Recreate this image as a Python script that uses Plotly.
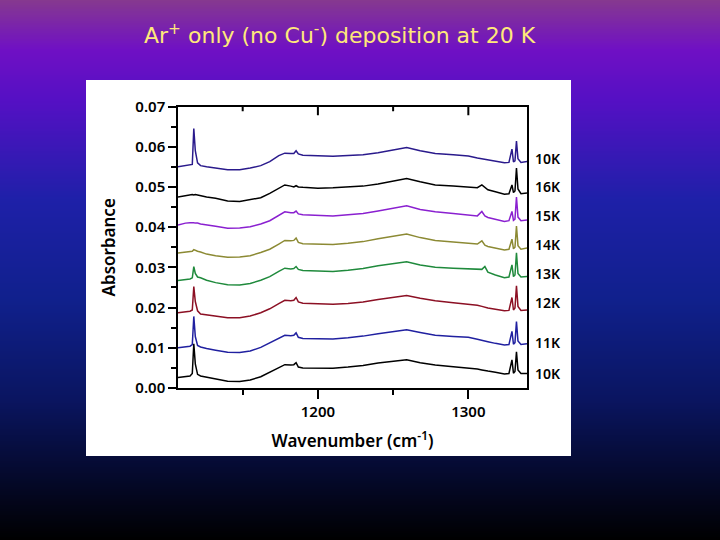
import plotly.graph_objects as go

title_text = "Ar<sup>+</sup> only (no Cu<sup>-</sup>) deposition at 20 K"

wavenumber = [1107, 1112, 1115, 1116.5, 1117.5, 1118.5, 1120, 1122, 1126, 1132, 1140, 1148, 1155, 1162,
              1168, 1174, 1178, 1182, 1184, 1185.5, 1187, 1190, 1200, 1210, 1220, 1230, 1240, 1250,
              1259, 1268, 1278, 1290, 1300, 1306, 1309, 1311, 1313, 1318, 1324, 1327, 1329, 1330,
              1331, 1332, 1333, 1335, 1339]

s10k_top = [.0550, .0553, .0554, .0556, .0645, .0590, .0560, .0553, .0550, .0547, .0543, .0543, .0547, .0553,
            .0563, .0578, .0584, .0583, .0583, .0590, .0582, .0579, .0577, .0576, .0578, .0580, .0585, .0591,
            .0598, .0590, .0583, .0580, .0577, .0572, .0570, .0569, .0568, .0564, .0560, .0561, .0594, .0562,
            .0565, .0614, .0570, .0561, .0563]
s16k = [.0475, .0479, .0480, .0481, .0480, .0481, .0480, .0478, .0475, .0472, .0465, .0464, .0468, .0473,
        .0484, .0497, .0505, .0502, .0500, .0503, .0500, .0499, .0497, .0498, .0500, .0502, .0507, .0514,
        .0521, .0513, .0505, .0502, .0500, .0498, .0505, .0499, .0493, .0488, .0482, .0483, .0505, .0486,
        .0490, .0547, .0495, .0483, .0485]
s15k = [.0405, .0410, .0411, .0412, .0411, .0410, .0410, .0408, .0405, .0402, .0397, .0398, .0401, .0408,
        .0416, .0430, .0438, .0436, .0436, .0440, .0433, .0431, .0429, .0428, .0431, .0434, .0440, .0447,
        .0453, .0444, .0438, .0434, .0430, .0428, .0439, .0428, .0424, .0420, .0414, .0416, .0439, .0417,
        .0420, .0475, .0425, .0416, .0418]
s14k = [.0336, .0338, .0339, .0340, .0344, .0342, .0340, .0338, .0333, .0329, .0325, .0326, .0329, .0337,
        .0345, .0358, .0367, .0366, .0367, .0373, .0362, .0359, .0358, .0357, .0360, .0364, .0371, .0378,
        .0383, .0374, .0367, .0363, .0360, .0358, .0366, .0355, .0352, .0348, .0343, .0345, .0370, .0346,
        .0350, .0403, .0354, .0345, .0348]
s13k = [.0267, .0270, .0271, .0274, .0302, .0285, .0276, .0274, .0268, .0262, .0257, .0256, .0260, .0268,
        .0277, .0290, .0298, .0296, .0297, .0302, .0295, .0292, .0291, .0290, .0293, .0297, .0304, .0310,
        .0314, .0306, .0300, .0298, .0296, .0294, .0295, .0302, .0288, .0281, .0274, .0276, .0306, .0277,
        .0281, .0336, .0285, .0276, .0277]
s12k = [.0187, .0189, .0191, .0194, .0252, .0215, .0192, .0184, .0182, .0179, .0175, .0175, .0179, .0187,
        .0197, .0210, .0218, .0217, .0218, .0225, .0214, .0211, .0209, .0208, .0210, .0214, .0220, .0226,
        .0230, .0223, .0217, .0212, .0209, .0206, .0203, .0201, .0199, .0196, .0192, .0193, .0225, .0194,
        .0199, .0254, .0203, .0193, .0194]
s11k = [.0100, .0103, .0104, .0108, .0178, .0128, .0106, .0102, .0098, .0094, .0089, .0088, .0092, .0101,
        .0112, .0124, .0131, .0130, .0131, .0137, .0126, .0123, .0122, .0122, .0125, .0129, .0135, .0141,
        .0145, .0138, .0131, .0128, .0126, .0121, .0119, .0117, .0115, .0111, .0107, .0108, .0141, .0109,
        .0113, .0165, .0117, .0108, .0110]
s10k = [.0026, .0029, .0030, .0036, .0110, .0060, .0034, .0030, .0027, .0022, .0017, .0016, .0020, .0028,
        .0039, .0051, .0058, .0057, .0058, .0063, .0052, .0050, .0049, .0049, .0052, .0056, .0062, .0067,
        .0070, .0063, .0057, .0053, .0050, .0047, .0045, .0043, .0042, .0039, .0035, .0036, .0070, .0037,
        .0041, .0090, .0045, .0036, .0036]

series_values = [s10k_top, s16k, s15k, s14k, s13k, s12k, s11k, s10k]
series_labels = ["10K", "16K", "15K", "14K", "13K", "12K", "11K", "10K"]
series_colors = ["#2a1a8c", "#000000", "#8a20d0", "#8c8a34", "#1f8a3c", "#8c1024", "#2020a0", "#000000"]
label_y = [158, 186, 215, 244, 273, 302, 342, 373]

top_ticks = [1150, 1200, 1250, 1300]
top_tick_ends = [0.0688, 0.0678, 0.0688, 0.0678]

bg_stops = [(0, "#86398f"), (50, "#6f10c4"), (100, "#5510c4"), (200, "#1e20a8"),
            (300, "#10208c"), (400, "#0a1560"), (470, "#050a30"), (540, "#000000")]

W, H = 720, 540
font = "Noto Sans"

fig = go.Figure()

# page background lives on its own pixel axes, drawn first
rows = list(range(0, 541, 2))
fig.add_trace(go.Heatmap(x=[0, W], y=rows, z=[[r, r] for r in rows], zmin=0, zmax=540,
                         colorscale=[[y / 540, c] for y, c in bg_stops],
                         showscale=False, hoverinfo="skip", xaxis="x", yaxis="y"))
fig.add_trace(go.Scatter(x=[86, 571, 571, 86, 86], y=[80, 80, 456, 456, 80], mode="lines",
                         fill="toself", fillcolor="white", line=dict(width=0),
                         hoverinfo="skip", showlegend=False, xaxis="x", yaxis="y"))

for vals, name, col in zip(series_values, series_labels, series_colors):
    fig.add_trace(go.Scatter(x=wavenumber, y=vals, mode="lines", name=name,
                             line=dict(color=col, width=1.5), showlegend=False,
                             xaxis="x2", yaxis="y2"))

# inward ticks on the top edge, plotly has no inward mirror ticks
tick_x, tick_y = [], []
for t, end in zip(top_ticks, top_tick_ends):
    tick_x += [t, t, None]
    tick_y += [0.07, end, None]
fig.add_trace(go.Scatter(x=tick_x, y=tick_y, mode="lines", showlegend=False, hoverinfo="skip",
                         line=dict(color="black", width=2), xaxis="x2", yaxis="y2"))

xr = [1107, 1339]
y_top = (H - 106.5) / H
tick_font = dict(family=font, size=15, color="black", weight=600)
title_font = dict(family=font, size=17, color="black", weight=600)
fig.update_layout(
    width=W, height=H, margin=dict(l=0, r=0, t=0, b=0, pad=0, autoexpand=False), showlegend=False,
    paper_bgcolor="black", plot_bgcolor="rgba(0,0,0,0)",
    xaxis=dict(domain=[0, 1], range=[0, W], visible=False),
    yaxis=dict(domain=[0, 1], range=[H, 0], visible=False),
    xaxis2=dict(domain=[178 / W, 527 / W], range=xr, anchor="y2", showgrid=False, zeroline=False,
                automargin=False, showline=True, linecolor="black", linewidth=1.5, mirror=True,
                ticks="outside", ticklen=9, tickwidth=2, tickcolor="black",
                tick0=1000, dtick=100, tickfont=tick_font,
                minor=dict(ticks="outside", ticklen=5, tickwidth=1.5, tickcolor="black", dtick=50, tick0=1000),
                title=dict(text="Wavenumber (cm<sup>-1</sup>)", font=title_font)),
    yaxis2=dict(domain=[(H - 388) / H, y_top], range=[0, 0.07], anchor="x2",
                automargin=False, showgrid=False, zeroline=False, showline=True, linecolor="black", linewidth=1.5,
                mirror=True, ticks="outside", ticklen=8, tickwidth=1.5, tickcolor="black",
                tick0=0, dtick=0.01, tickformat=".2f", tickfont=tick_font,
                minor=dict(ticks="outside", ticklen=5, tickwidth=1.5, tickcolor="black", dtick=0.005),
                title=dict(text="Absorbance", font=title_font)),
)

for name, y in zip(series_labels, label_y):
    fig.add_annotation(x=533, y=y, xref="x", yref="y", text=name, showarrow=False, xanchor="left",
                       font=dict(family=font, size=14, color="black", weight=600))

fig.add_annotation(x=340, y=34, xref="x", yref="y", text=title_text, showarrow=False,
                   font=dict(family="DejaVu Sans", size=22, color="#ffe97a"))

# the page's default 8px body margin would push the figure off the window
fig.write_html("out.html", config=dict(displayModeBar=False),
               post_script="document.body.style.margin='0';document.body.style.overflow='hidden';")
